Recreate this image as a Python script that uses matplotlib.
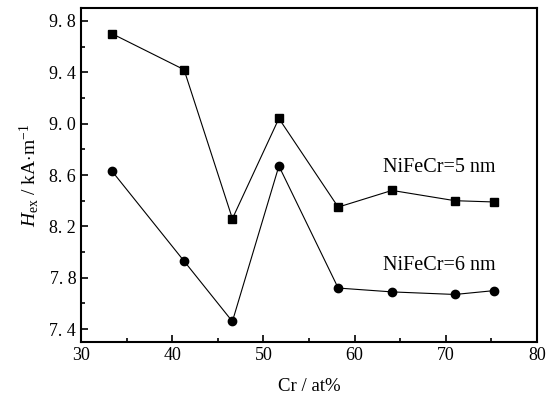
import matplotlib.pyplot as plt
from matplotlib.ticker import MultipleLocator, FixedLocator

# ============================================================
# DATA
# ============================================================
cr_5nm = [33.4, 41.3, 46.6, 51.7, 58.2, 64.1, 71.0, 75.3]
hex_5nm = [9.70, 9.42, 8.26, 9.04, 8.35, 8.48, 8.40, 8.39]

cr_6nm = [33.4, 41.3, 46.6, 51.7, 58.2, 64.1, 71.0, 75.3]
hex_6nm = [8.63, 7.93, 7.46, 8.67, 7.72, 7.69, 7.67, 7.70]

y_ticks = [7.4, 7.8, 8.2, 8.6, 9.0, 9.4, 9.8]
x_ticks = [30, 40, 50, 60, 70, 80]

plt.rcParams["font.family"] = ["Liberation Serif", "DejaVu Serif"]
plt.rcParams["mathtext.fontset"] = "custom"
plt.rcParams["mathtext.rm"] = "Liberation Serif"
plt.rcParams["mathtext.it"] = "Liberation Serif:italic"

fig = plt.figure(figsize=(5.47, 3.98), dpi=100)
ax = fig.add_axes([81 / 547, 1 - 342 / 398, 456 / 547, 334 / 398])

ax.plot(cr_5nm, hex_5nm, color="black", linewidth=0.8,
        marker="s", markersize=6)
ax.plot(cr_6nm, hex_6nm, color="black", linewidth=0.8,
        marker="o", markersize=6)

ax.set_xlim(30, 80)
ax.set_ylim(7.3, 9.9)

ax.xaxis.set_major_locator(FixedLocator(x_ticks))
ax.xaxis.set_minor_locator(MultipleLocator(5))
ax.yaxis.set_major_locator(FixedLocator(y_ticks))
ax.yaxis.set_minor_locator(MultipleLocator(0.2))
ax.set_yticklabels([f"{v:.1f}".replace(".", ". ") for v in y_ticks])

ax.tick_params(which="both", direction="in", top=False, right=False,
               labelsize=13, width=1.2)
ax.tick_params(which="major", length=5)
ax.tick_params(which="minor", length=3)
for s in ax.spines.values():
    s.set_linewidth(1.5)

ax.set_xlabel("Cr / at%", fontsize=13.5, labelpad=10)
ax.set_ylabel(r"$H_{\mathrm{ex}}$ / kA$\cdot$m$^{-1}$", fontsize=14, labelpad=6)

ax.text(63.1, 8.655, "NiFeCr=5 nm", fontsize=14.5, va="center", ha="left")
ax.text(63.1, 7.893, "NiFeCr=6 nm", fontsize=14.5, va="center", ha="left")

fig.savefig("out.png", dpi=100)
